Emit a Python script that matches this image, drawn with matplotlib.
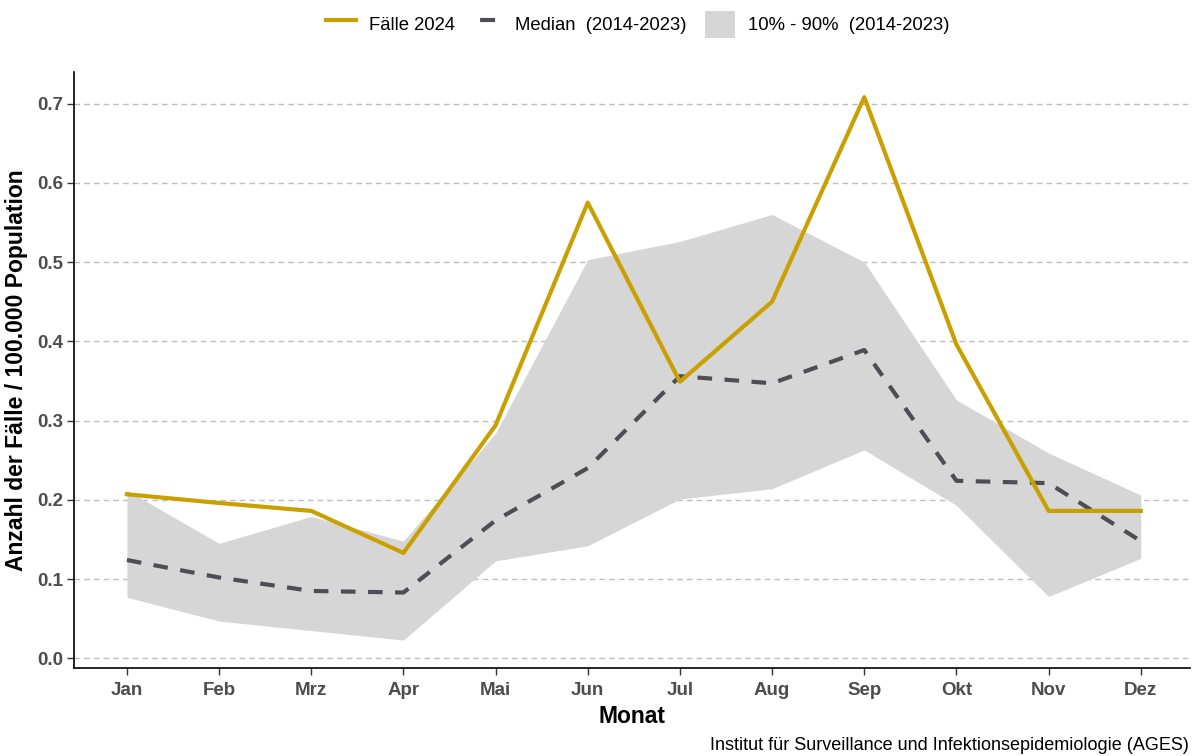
import matplotlib
matplotlib.use("Agg")
import matplotlib.pyplot as plt
from matplotlib.lines import Line2D
from matplotlib.patches import Patch

plt.rcParams['font.family'] = ['Liberation Sans', 'DejaVu Sans']

months = ["Jan", "Feb", "Mrz", "Apr", "Mai", "Jun", "Jul", "Aug", "Sep", "Okt", "Nov", "Dez"]
faelle_2024 = [0.207, 0.196, 0.186, 0.133, 0.294, 0.575, 0.349, 0.450, 0.708, 0.396, 0.186, 0.186]
median = [0.124, 0.102, 0.085, 0.083, 0.174, 0.240, 0.356, 0.347, 0.389, 0.224, 0.221, 0.148]
upper90 = [0.212, 0.145, 0.179, 0.148, 0.284, 0.503, 0.526, 0.560, 0.500, 0.326, 0.259, 0.206]
lower10 = [0.077, 0.047, 0.035, 0.023, 0.123, 0.142, 0.201, 0.214, 0.263, 0.193, 0.078, 0.126]
yticks = [0.0, 0.1, 0.2, 0.3, 0.4, 0.5, 0.6, 0.7]

fig = plt.figure(figsize=(11.92, 7.56), dpi=100)
ax = fig.add_axes([0.062, 0.116, 0.936, 0.789])

x = list(range(len(months)))
ax.fill_between(x, lower10, upper90, color='#D6D6D6', linewidth=0, zorder=1)
ax.plot(x, median, color='#4D4D55', linewidth=3, linestyle=(0, (3.5, 3)), zorder=3)
ax.plot(x, faelle_2024, color='#C9A000', linewidth=3, zorder=4)

ax.set_xlim(-0.575, 11.53)
ax.set_ylim(-0.0126, 0.740)
ax.set_xticks(x)
ax.set_xticklabels(months)
ax.set_yticks(yticks)
ax.set_yticklabels([f"{v:.1f}" for v in yticks])
for lab in ax.get_xticklabels() + ax.get_yticklabels():
    lab.set_fontweight('bold')
    lab.set_color('#4D4D4D')
    lab.set_fontsize(13.5)

ax.yaxis.grid(True, color='#BDBDBD', linestyle=(0, (4, 3)), linewidth=1)
ax.set_axisbelow(True)
for s in ['top', 'right']:
    ax.spines[s].set_visible(False)
for s in ['left', 'bottom']:
    ax.spines[s].set_color('black')
    ax.spines[s].set_linewidth(1.2)
ax.tick_params(axis='x', length=5, color='#333333', width=1, pad=5)
ax.tick_params(axis='y', length=5, color='#333333', width=1, pad=3)

ax.set_xlabel("Monat", fontsize=16.5, fontweight='bold', labelpad=4)
ax.set_ylabel("Anzahl der Fälle / 100.000 Population", fontsize=16.5, fontweight='bold', labelpad=6)

handles = [
    Line2D([], [], color='#C9A000', linewidth=3),
    Line2D([], [], color='#4D4D55', linewidth=3, linestyle=(11.9, (3.6, 10))),
    Patch(facecolor='#D6D6D6', edgecolor='none'),
]
labels = ["Fälle 2024", "Median  (2014-2023)", "10% - 90%  (2014-2023)"]
fig.legend(handles, labels, loc='center', bbox_to_anchor=(0.535, 0.968), ncol=3,
           frameon=False, fontsize=13.3, handlelength=1.6, handleheight=1.9,
           columnspacing=1.0, handletextpad=0.7)

fig.text(0.997, 0.003, "Institut für Surveillance und Infektionsepidemiologie (AGES)",
         ha='right', va='bottom', fontsize=13)

fig.savefig("out.png", dpi=100)
